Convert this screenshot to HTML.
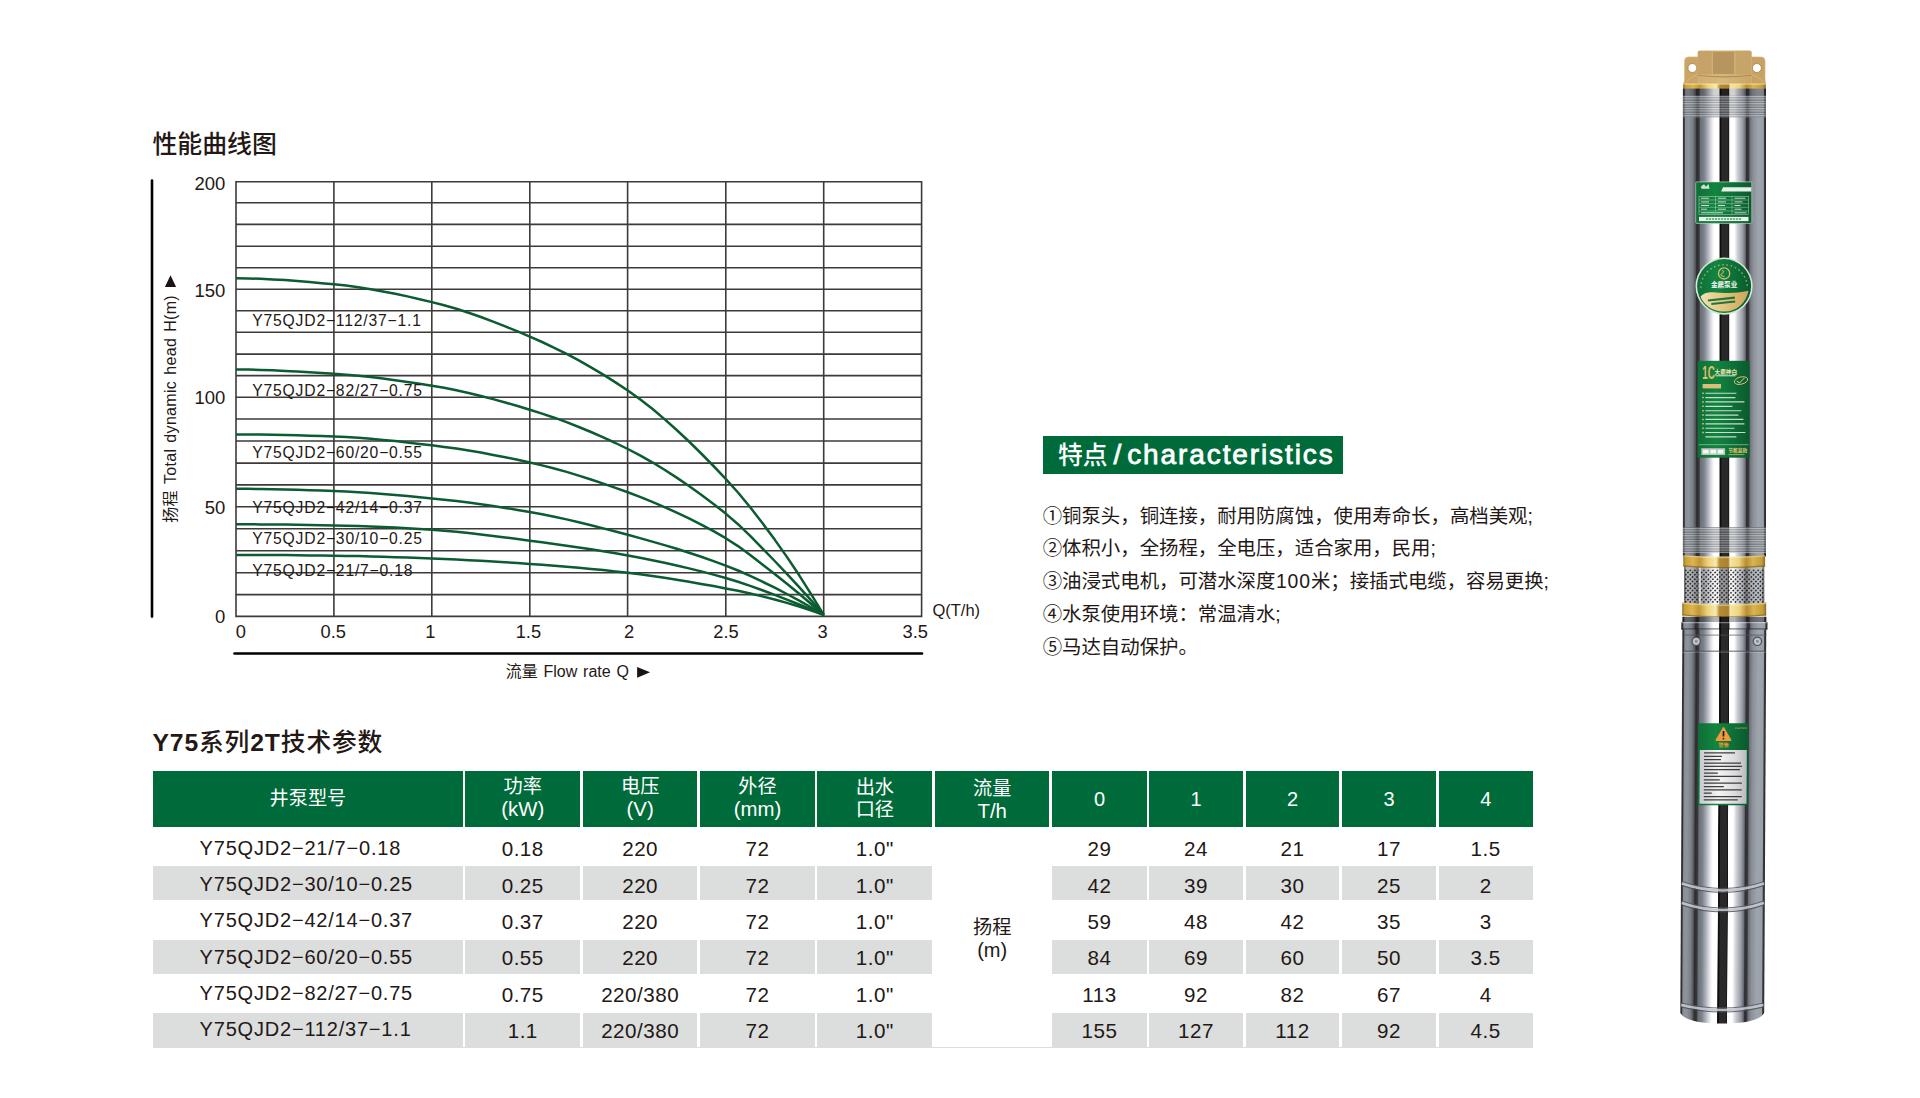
<!DOCTYPE html>
<html lang="zh-CN"><head><meta charset="utf-8"><title>Y75系列2T技术参数</title>
<style>
html,body{margin:0;padding:0;background:#fff;}
body{width:1920px;height:1098px;position:relative;overflow:hidden;font-family:"Liberation Sans","Noto Sans CJK SC",sans-serif;color:#231815;}
.t{position:absolute;white-space:nowrap;}
.c{position:absolute;display:flex;align-items:center;justify-content:center;text-align:center;white-space:nowrap;}
.h{background:#006b3a;color:#fff;}
.g{background:#dcdddd;}
svg{position:absolute;left:0;top:0;}
svg text{font-family:"Liberation Sans","Noto Sans CJK SC",sans-serif;fill:#231815;}
</style></head><body>

<div class="t" style="left:152.4px;top:127.4px;font-size:24.9px;line-height:34px;font-weight:500;">性能曲线图</div>
<div class="t" style="left:152.4px;top:726.0px;font-size:24.7px;line-height:34px;font-weight:500;letter-spacing:0.9px;"><b>Y75</b>系列<b>2T</b>技术参数</div>
<svg width="1920" height="1098" viewBox="0 0 1920 1098">
<path d="M235.20 181.70H922.40M235.20 202.80H922.40M235.20 224.40H922.40M235.20 246.20H922.40M235.20 267.70H922.40M235.20 289.30H922.40M235.20 310.70H922.40M235.20 332.30H922.40M235.20 354.10H922.40M235.20 375.60H922.40M235.20 397.20H922.40M235.20 419.00H922.40M235.20 441.00H922.40M235.20 463.10H922.40M235.20 484.90H922.40M235.20 506.80H922.40M235.20 528.70H922.40M235.20 550.70H922.40M235.20 572.70H922.40M235.20 594.60H922.40M235.20 616.40H922.40M236.00 181.70V616.40M333.90 181.70V616.40M431.80 181.70V616.40M529.80 181.70V616.40M627.60 181.70V616.40M725.80 181.70V616.40M823.70 181.70V616.40M921.60 181.70V616.40" fill="none" stroke="#3e3a39" stroke-width="1.6"/>
<path d="M152 180.6V616.6" stroke="#000" stroke-width="2.6" stroke-linecap="round" fill="none"/>
<path d="M234.5 653.5H922" stroke="#000" stroke-width="2.6" stroke-linecap="round" fill="none"/>
<path d="M236.0 278.2L248.2 278.4L260.5 278.8L272.7 279.4L285.0 280.1L297.2 281.1L309.5 282.1L321.7 283.2L333.9 284.3L346.2 285.6L358.4 287.3L370.7 289.2L382.9 291.4L395.2 293.8L407.4 296.4L419.6 299.2L431.9 302.1L444.1 305.3L456.4 308.8L468.6 312.8L480.9 317.0L493.1 321.6L505.3 326.4L517.6 331.4L529.8 336.6L542.1 342.0L554.3 347.8L566.6 353.9L578.8 360.4L591.0 367.3L603.3 374.6L615.5 382.4L627.8 390.5L640.0 399.3L652.3 408.8L664.5 419.1L676.7 430.0L689.0 441.5L701.2 453.5L713.5 466.0L725.7 478.8L738.0 492.5L750.2 507.3L762.4 523.1L774.7 539.6L786.9 556.9L799.2 575.3L811.4 594.6L823.7 614.8" fill="none" stroke="#0b5c30" stroke-width="2.5" stroke-linejoin="round"/>
<path d="M236.0 369.4L248.2 369.6L260.5 369.9L272.7 370.3L285.0 370.9L297.2 371.5L309.5 372.2L321.7 373.0L333.9 373.8L346.2 374.7L358.4 375.8L370.7 377.1L382.9 378.6L395.2 380.2L407.4 381.9L419.6 383.8L431.9 385.7L444.1 387.8L456.4 390.3L468.6 393.0L480.9 396.0L493.1 399.1L505.3 402.5L517.6 406.0L529.8 409.7L542.1 413.6L554.3 417.7L566.6 422.2L578.8 427.0L591.0 432.0L603.3 437.4L615.5 443.0L627.8 449.0L640.0 455.4L652.3 462.3L664.5 469.7L676.7 477.6L689.0 486.0L701.2 494.8L713.5 504.0L725.7 513.6L738.0 524.2L750.2 535.9L762.4 548.3L774.7 561.0L786.9 573.8L799.2 587.1L811.4 600.7L823.7 614.8" fill="none" stroke="#0b5c30" stroke-width="2.5" stroke-linejoin="round"/>
<path d="M236.0 434.4L248.2 434.4L260.5 434.6L272.7 434.8L285.0 435.0L297.2 435.3L309.5 435.7L321.7 436.1L333.9 436.5L346.2 437.0L358.4 437.8L370.7 438.8L382.9 439.9L395.2 441.1L407.4 442.4L419.6 443.9L431.9 445.3L444.1 446.9L456.4 448.6L468.6 450.5L480.9 452.6L493.1 454.9L505.3 457.3L517.6 459.8L529.8 462.5L542.1 465.4L554.3 468.5L566.6 471.9L578.8 475.6L591.0 479.5L603.3 483.6L615.5 487.9L627.8 492.3L640.0 496.9L652.3 501.9L664.5 507.1L676.7 512.6L689.0 518.4L701.2 524.6L713.5 531.2L725.7 538.2L738.0 546.1L750.2 555.0L762.4 564.5L774.7 574.1L786.9 583.8L799.2 593.8L811.4 604.2L823.7 614.8" fill="none" stroke="#0b5c30" stroke-width="2.5" stroke-linejoin="round"/>
<path d="M236.0 488.8L248.2 488.8L260.5 489.0L272.7 489.2L285.0 489.5L297.2 489.8L309.5 490.2L321.7 490.6L333.9 491.0L346.2 491.5L358.4 492.2L370.7 493.0L382.9 493.9L395.2 495.0L407.4 496.1L419.6 497.2L431.9 498.4L444.1 499.7L456.4 501.1L468.6 502.6L480.9 504.3L493.1 506.0L505.3 507.9L517.6 509.9L529.8 512.0L542.1 514.3L554.3 516.7L566.6 519.4L578.8 522.3L591.0 525.2L603.3 528.4L615.5 531.5L627.8 534.8L640.0 538.1L652.3 541.6L664.5 545.1L676.7 548.8L689.0 552.7L701.2 556.8L713.5 561.1L725.7 565.6L738.0 570.5L750.2 575.9L762.4 581.7L774.7 587.7L786.9 594.0L799.2 600.6L811.4 607.5L823.7 614.8" fill="none" stroke="#0b5c30" stroke-width="2.5" stroke-linejoin="round"/>
<path d="M236.0 524.3L248.2 524.3L260.5 524.4L272.7 524.5L285.0 524.6L297.2 524.8L309.5 525.0L321.7 525.2L333.9 525.4L346.2 525.7L358.4 526.0L370.7 526.5L382.9 527.0L395.2 527.6L407.4 528.3L419.6 529.0L431.9 529.8L444.1 530.7L456.4 531.8L468.6 533.1L480.9 534.5L493.1 536.0L505.3 537.5L517.6 539.1L529.8 540.7L542.1 542.3L554.3 543.9L566.6 545.7L578.8 547.4L591.0 549.3L603.3 551.3L615.5 553.3L627.8 555.5L640.0 557.8L652.3 560.2L664.5 562.8L676.7 565.5L689.0 568.4L701.2 571.4L713.5 574.6L725.7 578.0L738.0 581.7L750.2 585.9L762.4 590.3L774.7 594.9L786.9 599.6L799.2 604.5L811.4 609.5L823.7 614.8" fill="none" stroke="#0b5c30" stroke-width="2.5" stroke-linejoin="round"/>
<path d="M236.0 554.9L248.2 554.9L260.5 555.0L272.7 555.0L285.0 555.1L297.2 555.3L309.5 555.4L321.7 555.5L333.9 555.7L346.2 555.9L358.4 556.1L370.7 556.4L382.9 556.8L395.2 557.2L407.4 557.6L419.6 558.0L431.9 558.5L444.1 559.0L456.4 559.5L468.6 560.2L480.9 560.8L493.1 561.5L505.3 562.3L517.6 563.1L529.8 563.9L542.1 564.8L554.3 565.7L566.6 566.7L578.8 567.8L591.0 568.9L603.3 570.1L615.5 571.4L627.8 572.8L640.0 574.3L652.3 576.0L664.5 577.8L676.7 579.7L689.0 581.7L701.2 583.9L713.5 586.1L725.7 588.4L738.0 590.8L750.2 593.5L762.4 596.4L774.7 599.5L786.9 602.9L799.2 606.6L811.4 610.6L823.7 614.8" fill="none" stroke="#0b5c30" stroke-width="2.5" stroke-linejoin="round"/>
<text x="252.3" y="325.6" font-size="15.7" letter-spacing="0.8">Y75QJD2−112/37−1.1</text>
<text x="252.3" y="396.4" font-size="15.7" letter-spacing="0.8">Y75QJD2−82/27−0.75</text>
<text x="252.3" y="458.4" font-size="15.7" letter-spacing="0.8">Y75QJD2−60/20−0.55</text>
<text x="252.3" y="512.6" font-size="15.7" letter-spacing="0.8">Y75QJD2−42/14−0.37</text>
<text x="252.3" y="543.9" font-size="15.7" letter-spacing="0.8">Y75QJD2−30/10−0.25</text>
<text x="252.3" y="575.9" font-size="15.7" letter-spacing="0.8">Y75QJD2−21/7−0.18</text>
<text x="225.4" y="189.9" font-size="18.5" text-anchor="end">200</text>
<text x="225.4" y="296.9" font-size="18.5" text-anchor="end">150</text>
<text x="225.4" y="404.2" font-size="18.5" text-anchor="end">100</text>
<text x="225.4" y="513.7" font-size="18.5" text-anchor="end">50</text>
<text x="225.4" y="622.9" font-size="18.5" text-anchor="end">0</text>
<text x="333.3" y="637.5" font-size="18.3" text-anchor="middle">0.5</text>
<text x="430.3" y="637.5" font-size="18.3" text-anchor="middle">1</text>
<text x="528.4" y="637.5" font-size="18.3" text-anchor="middle">1.5</text>
<text x="629.2" y="637.5" font-size="18.3" text-anchor="middle">2</text>
<text x="726.0" y="637.5" font-size="18.3" text-anchor="middle">2.5</text>
<text x="822.7" y="637.5" font-size="18.3" text-anchor="middle">3</text>
<text x="915.2" y="637.5" font-size="18.3" text-anchor="middle">3.5</text>
<text x="235.8" y="637.5" font-size="18.3">0</text>
<text x="932.4" y="616.3" font-size="16.5">Q(T/h)</text>
<text x="505.8" y="677.3" font-size="16" word-spacing="1.3">流量 Flow rate Q</text>
<path d="M637.1 666.9V677.7L650.1 672.3Z" fill="#1a1311"/>
<text transform="translate(176.3 522.8) rotate(-90)" font-size="16" word-spacing="1.3" letter-spacing="0.32">扬程 Total dynamic head H(m)</text>
<path d="M164.9 286.9H176.1L170.5 275.2Z" fill="#1a1311"/>
</svg>
<div class="c h" style="left:1042.8px;top:435.8px;width:300.3px;height:37.8px;"></div>
<div class="t" style="left:1058px;top:436.8px;height:37.8px;line-height:37.8px;color:#fff;font-weight:500;font-size:24.8px;">特点</div>
<div class="t" style="left:1113.4px;top:436.3px;height:37.8px;line-height:37.8px;color:#fff;font-size:28px;-webkit-text-stroke:0.8px #fff;">/</div>
<div class="t" style="left:1127.2px;top:436.3px;height:37.8px;line-height:37.8px;color:#fff;font-size:28px;letter-spacing:1.9px;-webkit-text-stroke:0.8px #fff;">characteristics</div>
<div class="t" style="left:1042.7px;top:501.5px;font-size:19.4px;line-height:28px;">①铜泵头，铜连接，耐用防腐蚀，使用寿命长，高档美观;</div>
<div class="t" style="left:1042.7px;top:534.4px;font-size:19.4px;line-height:28px;">②体积小，全扬程，全电压，适合家用，民用;</div>
<div class="t" style="left:1042.7px;top:567.3px;font-size:19.4px;line-height:28px;">③油浸式电机，可潜水深度<span style="font-family:'Liberation Sans',sans-serif;letter-spacing:0.9px;margin-left:0.5px">100</span>米；接插式电缆，容易更换;</div>
<div class="t" style="left:1042.7px;top:600.2px;font-size:19.4px;line-height:28px;">④水泵使用环境：常温清水;</div>
<div class="t" style="left:1042.7px;top:633.1px;font-size:19.4px;line-height:28px;">⑤马达自动保护。</div>
<div class="c h" style="left:153.2px;top:770.5px;width:309.5px;height:56.3px;font-size:19.2px;line-height:22px;"><span>井泵型号</span></div>
<div class="c h" style="left:465.3px;top:770.5px;width:114.9px;height:56.3px;font-size:19.2px;line-height:22px;"><span>功率<br><span style="font-size:20.4px">(kW)</span></span></div>
<div class="c h" style="left:582.8px;top:770.5px;width:114.7px;height:56.3px;font-size:19.2px;line-height:22px;"><span>电压<br><span style="font-size:20.4px">(V)</span></span></div>
<div class="c h" style="left:700.2px;top:770.5px;width:114.6px;height:56.3px;font-size:19.2px;line-height:22px;"><span>外径<br><span style="font-size:20.4px">(mm)</span></span></div>
<div class="c h" style="left:817.4px;top:770.5px;width:114.9px;height:56.3px;font-size:19.2px;line-height:22px;"><span>出水<br>口径</span></div>
<div class="c h" style="left:935.0px;top:770.5px;width:114.4px;height:56.3px;font-size:19.2px;line-height:22px;"><span><span style="position:relative;top:1.6px">流量<br><span style="font-size:20.4px">T/h</span></span></span></div>
<div class="c h" style="left:1052.3px;top:770.5px;width:94.4px;height:56.3px;font-size:20.0px;line-height:22px;"><span>0</span></div>
<div class="c h" style="left:1149.0px;top:770.5px;width:94.0px;height:56.3px;font-size:20.0px;line-height:22px;"><span>1</span></div>
<div class="c h" style="left:1245.7px;top:770.5px;width:93.6px;height:56.3px;font-size:20.0px;line-height:22px;"><span>2</span></div>
<div class="c h" style="left:1342.0px;top:770.5px;width:94.0px;height:56.3px;font-size:20.0px;line-height:22px;"><span>3</span></div>
<div class="c h" style="left:1438.7px;top:770.5px;width:94.0px;height:56.3px;font-size:20.0px;line-height:22px;"><span>4</span></div>
<div class="t" style="left:199.6px;top:832.7px;height:30px;font-size:20px;line-height:30px;letter-spacing:0.8px;">Y75QJD2−21/7−0.18</div>
<div class="c" style="left:465.3px;top:834.3px;width:114.9px;height:30px;font-size:20.6px;line-height:30px;letter-spacing:0.5px;">0.18</div>
<div class="c" style="left:582.8px;top:834.3px;width:114.7px;height:30px;font-size:20.6px;line-height:30px;letter-spacing:0.5px;">220</div>
<div class="c" style="left:700.2px;top:834.3px;width:114.6px;height:30px;font-size:20.6px;line-height:30px;letter-spacing:0.5px;">72</div>
<div class="c" style="left:817.4px;top:834.3px;width:114.9px;height:30px;font-size:20.6px;line-height:30px;letter-spacing:0.5px;">1.0"</div>
<div class="c" style="left:1052.3px;top:834.3px;width:94.4px;height:30px;font-size:20.6px;line-height:30px;letter-spacing:0.5px;">29</div>
<div class="c" style="left:1149.0px;top:834.3px;width:94.0px;height:30px;font-size:20.6px;line-height:30px;letter-spacing:0.5px;">24</div>
<div class="c" style="left:1245.7px;top:834.3px;width:93.6px;height:30px;font-size:20.6px;line-height:30px;letter-spacing:0.5px;">21</div>
<div class="c" style="left:1342.0px;top:834.3px;width:94.0px;height:30px;font-size:20.6px;line-height:30px;letter-spacing:0.5px;">17</div>
<div class="c" style="left:1438.7px;top:834.3px;width:94.0px;height:30px;font-size:20.6px;line-height:30px;letter-spacing:0.5px;">1.5</div>
<div class="g" style="position:absolute;left:153.2px;top:866.3px;width:309.5px;height:34.2px;"></div>
<div class="t" style="left:199.6px;top:869.0px;height:30px;font-size:20px;line-height:30px;letter-spacing:0.8px;">Y75QJD2−30/10−0.25</div>
<div class="g" style="position:absolute;left:465.3px;top:866.3px;width:114.9px;height:34.2px;"></div>
<div class="c" style="left:465.3px;top:870.6px;width:114.9px;height:30px;font-size:20.6px;line-height:30px;letter-spacing:0.5px;">0.25</div>
<div class="g" style="position:absolute;left:582.8px;top:866.3px;width:114.7px;height:34.2px;"></div>
<div class="c" style="left:582.8px;top:870.6px;width:114.7px;height:30px;font-size:20.6px;line-height:30px;letter-spacing:0.5px;">220</div>
<div class="g" style="position:absolute;left:700.2px;top:866.3px;width:114.6px;height:34.2px;"></div>
<div class="c" style="left:700.2px;top:870.6px;width:114.6px;height:30px;font-size:20.6px;line-height:30px;letter-spacing:0.5px;">72</div>
<div class="g" style="position:absolute;left:817.4px;top:866.3px;width:114.9px;height:34.2px;"></div>
<div class="c" style="left:817.4px;top:870.6px;width:114.9px;height:30px;font-size:20.6px;line-height:30px;letter-spacing:0.5px;">1.0"</div>
<div class="g" style="position:absolute;left:1052.3px;top:866.3px;width:94.4px;height:34.2px;"></div>
<div class="c" style="left:1052.3px;top:870.6px;width:94.4px;height:30px;font-size:20.6px;line-height:30px;letter-spacing:0.5px;">42</div>
<div class="g" style="position:absolute;left:1149.0px;top:866.3px;width:94.0px;height:34.2px;"></div>
<div class="c" style="left:1149.0px;top:870.6px;width:94.0px;height:30px;font-size:20.6px;line-height:30px;letter-spacing:0.5px;">39</div>
<div class="g" style="position:absolute;left:1245.7px;top:866.3px;width:93.6px;height:34.2px;"></div>
<div class="c" style="left:1245.7px;top:870.6px;width:93.6px;height:30px;font-size:20.6px;line-height:30px;letter-spacing:0.5px;">30</div>
<div class="g" style="position:absolute;left:1342.0px;top:866.3px;width:94.0px;height:34.2px;"></div>
<div class="c" style="left:1342.0px;top:870.6px;width:94.0px;height:30px;font-size:20.6px;line-height:30px;letter-spacing:0.5px;">25</div>
<div class="g" style="position:absolute;left:1438.7px;top:866.3px;width:94.0px;height:34.2px;"></div>
<div class="c" style="left:1438.7px;top:870.6px;width:94.0px;height:30px;font-size:20.6px;line-height:30px;letter-spacing:0.5px;">2</div>
<div class="t" style="left:199.6px;top:905.3px;height:30px;font-size:20px;line-height:30px;letter-spacing:0.8px;">Y75QJD2−42/14−0.37</div>
<div class="c" style="left:465.3px;top:906.9px;width:114.9px;height:30px;font-size:20.6px;line-height:30px;letter-spacing:0.5px;">0.37</div>
<div class="c" style="left:582.8px;top:906.9px;width:114.7px;height:30px;font-size:20.6px;line-height:30px;letter-spacing:0.5px;">220</div>
<div class="c" style="left:700.2px;top:906.9px;width:114.6px;height:30px;font-size:20.6px;line-height:30px;letter-spacing:0.5px;">72</div>
<div class="c" style="left:817.4px;top:906.9px;width:114.9px;height:30px;font-size:20.6px;line-height:30px;letter-spacing:0.5px;">1.0"</div>
<div class="c" style="left:1052.3px;top:906.9px;width:94.4px;height:30px;font-size:20.6px;line-height:30px;letter-spacing:0.5px;">59</div>
<div class="c" style="left:1149.0px;top:906.9px;width:94.0px;height:30px;font-size:20.6px;line-height:30px;letter-spacing:0.5px;">48</div>
<div class="c" style="left:1245.7px;top:906.9px;width:93.6px;height:30px;font-size:20.6px;line-height:30px;letter-spacing:0.5px;">42</div>
<div class="c" style="left:1342.0px;top:906.9px;width:94.0px;height:30px;font-size:20.6px;line-height:30px;letter-spacing:0.5px;">35</div>
<div class="c" style="left:1438.7px;top:906.9px;width:94.0px;height:30px;font-size:20.6px;line-height:30px;letter-spacing:0.5px;">3</div>
<div class="g" style="position:absolute;left:153.2px;top:939.6px;width:309.5px;height:34.2px;"></div>
<div class="t" style="left:199.6px;top:941.6px;height:30px;font-size:20px;line-height:30px;letter-spacing:0.8px;">Y75QJD2−60/20−0.55</div>
<div class="g" style="position:absolute;left:465.3px;top:939.6px;width:114.9px;height:34.2px;"></div>
<div class="c" style="left:465.3px;top:943.2px;width:114.9px;height:30px;font-size:20.6px;line-height:30px;letter-spacing:0.5px;">0.55</div>
<div class="g" style="position:absolute;left:582.8px;top:939.6px;width:114.7px;height:34.2px;"></div>
<div class="c" style="left:582.8px;top:943.2px;width:114.7px;height:30px;font-size:20.6px;line-height:30px;letter-spacing:0.5px;">220</div>
<div class="g" style="position:absolute;left:700.2px;top:939.6px;width:114.6px;height:34.2px;"></div>
<div class="c" style="left:700.2px;top:943.2px;width:114.6px;height:30px;font-size:20.6px;line-height:30px;letter-spacing:0.5px;">72</div>
<div class="g" style="position:absolute;left:817.4px;top:939.6px;width:114.9px;height:34.2px;"></div>
<div class="c" style="left:817.4px;top:943.2px;width:114.9px;height:30px;font-size:20.6px;line-height:30px;letter-spacing:0.5px;">1.0"</div>
<div class="g" style="position:absolute;left:1052.3px;top:939.6px;width:94.4px;height:34.2px;"></div>
<div class="c" style="left:1052.3px;top:943.2px;width:94.4px;height:30px;font-size:20.6px;line-height:30px;letter-spacing:0.5px;">84</div>
<div class="g" style="position:absolute;left:1149.0px;top:939.6px;width:94.0px;height:34.2px;"></div>
<div class="c" style="left:1149.0px;top:943.2px;width:94.0px;height:30px;font-size:20.6px;line-height:30px;letter-spacing:0.5px;">69</div>
<div class="g" style="position:absolute;left:1245.7px;top:939.6px;width:93.6px;height:34.2px;"></div>
<div class="c" style="left:1245.7px;top:943.2px;width:93.6px;height:30px;font-size:20.6px;line-height:30px;letter-spacing:0.5px;">60</div>
<div class="g" style="position:absolute;left:1342.0px;top:939.6px;width:94.0px;height:34.2px;"></div>
<div class="c" style="left:1342.0px;top:943.2px;width:94.0px;height:30px;font-size:20.6px;line-height:30px;letter-spacing:0.5px;">50</div>
<div class="g" style="position:absolute;left:1438.7px;top:939.6px;width:94.0px;height:34.2px;"></div>
<div class="c" style="left:1438.7px;top:943.2px;width:94.0px;height:30px;font-size:20.6px;line-height:30px;letter-spacing:0.5px;">3.5</div>
<div class="t" style="left:199.6px;top:977.9px;height:30px;font-size:20px;line-height:30px;letter-spacing:0.8px;">Y75QJD2−82/27−0.75</div>
<div class="c" style="left:465.3px;top:979.5px;width:114.9px;height:30px;font-size:20.6px;line-height:30px;letter-spacing:0.5px;">0.75</div>
<div class="c" style="left:582.8px;top:979.5px;width:114.7px;height:30px;font-size:20.6px;line-height:30px;letter-spacing:0.5px;">220/380</div>
<div class="c" style="left:700.2px;top:979.5px;width:114.6px;height:30px;font-size:20.6px;line-height:30px;letter-spacing:0.5px;">72</div>
<div class="c" style="left:817.4px;top:979.5px;width:114.9px;height:30px;font-size:20.6px;line-height:30px;letter-spacing:0.5px;">1.0"</div>
<div class="c" style="left:1052.3px;top:979.5px;width:94.4px;height:30px;font-size:20.6px;line-height:30px;letter-spacing:0.5px;">113</div>
<div class="c" style="left:1149.0px;top:979.5px;width:94.0px;height:30px;font-size:20.6px;line-height:30px;letter-spacing:0.5px;">92</div>
<div class="c" style="left:1245.7px;top:979.5px;width:93.6px;height:30px;font-size:20.6px;line-height:30px;letter-spacing:0.5px;">82</div>
<div class="c" style="left:1342.0px;top:979.5px;width:94.0px;height:30px;font-size:20.6px;line-height:30px;letter-spacing:0.5px;">67</div>
<div class="c" style="left:1438.7px;top:979.5px;width:94.0px;height:30px;font-size:20.6px;line-height:30px;letter-spacing:0.5px;">4</div>
<div class="g" style="position:absolute;left:153.2px;top:1012.9px;width:309.5px;height:34.2px;"></div>
<div class="t" style="left:199.6px;top:1014.2px;height:30px;font-size:20px;line-height:30px;letter-spacing:0.8px;">Y75QJD2−112/37−1.1</div>
<div class="g" style="position:absolute;left:465.3px;top:1012.9px;width:114.9px;height:34.2px;"></div>
<div class="c" style="left:465.3px;top:1015.8px;width:114.9px;height:30px;font-size:20.6px;line-height:30px;letter-spacing:0.5px;">1.1</div>
<div class="g" style="position:absolute;left:582.8px;top:1012.9px;width:114.7px;height:34.2px;"></div>
<div class="c" style="left:582.8px;top:1015.8px;width:114.7px;height:30px;font-size:20.6px;line-height:30px;letter-spacing:0.5px;">220/380</div>
<div class="g" style="position:absolute;left:700.2px;top:1012.9px;width:114.6px;height:34.2px;"></div>
<div class="c" style="left:700.2px;top:1015.8px;width:114.6px;height:30px;font-size:20.6px;line-height:30px;letter-spacing:0.5px;">72</div>
<div class="g" style="position:absolute;left:817.4px;top:1012.9px;width:114.9px;height:34.2px;"></div>
<div class="c" style="left:817.4px;top:1015.8px;width:114.9px;height:30px;font-size:20.6px;line-height:30px;letter-spacing:0.5px;">1.0"</div>
<div class="g" style="position:absolute;left:1052.3px;top:1012.9px;width:94.4px;height:34.2px;"></div>
<div class="c" style="left:1052.3px;top:1015.8px;width:94.4px;height:30px;font-size:20.6px;line-height:30px;letter-spacing:0.5px;">155</div>
<div class="g" style="position:absolute;left:1149.0px;top:1012.9px;width:94.0px;height:34.2px;"></div>
<div class="c" style="left:1149.0px;top:1015.8px;width:94.0px;height:30px;font-size:20.6px;line-height:30px;letter-spacing:0.5px;">127</div>
<div class="g" style="position:absolute;left:1245.7px;top:1012.9px;width:93.6px;height:34.2px;"></div>
<div class="c" style="left:1245.7px;top:1015.8px;width:93.6px;height:30px;font-size:20.6px;line-height:30px;letter-spacing:0.5px;">112</div>
<div class="g" style="position:absolute;left:1342.0px;top:1012.9px;width:94.0px;height:34.2px;"></div>
<div class="c" style="left:1342.0px;top:1015.8px;width:94.0px;height:30px;font-size:20.6px;line-height:30px;letter-spacing:0.5px;">92</div>
<div class="g" style="position:absolute;left:1438.7px;top:1012.9px;width:94.0px;height:34.2px;"></div>
<div class="c" style="left:1438.7px;top:1015.8px;width:94.0px;height:30px;font-size:20.6px;line-height:30px;letter-spacing:0.5px;">4.5</div>
<div style="position:absolute;left:153.2px;top:1046.6px;width:1379.5px;height:1.2px;background:#dcdddd;"></div>
<div class="c" style="left:935.0px;top:917.3px;width:114.4px;height:22px;font-size:19.2px;line-height:22px;">扬程</div>
<div class="c" style="left:935.0px;top:939px;width:114.4px;height:22px;font-size:20px;line-height:22px;">(m)</div>
<svg width="1920" height="1098" viewBox="0 0 1920 1098">
<defs>
<linearGradient id="chr" x1="0" x2="1" y1="0" y2="0"><stop offset="0.0000" stop-color="#3a3a3c"/><stop offset="0.0160" stop-color="#2e2e30"/><stop offset="0.0300" stop-color="#888d96"/><stop offset="0.0680" stop-color="#8f949c"/><stop offset="0.1180" stop-color="#7b8087"/><stop offset="0.1500" stop-color="#55575e"/><stop offset="0.1660" stop-color="#2c2c2e"/><stop offset="0.1960" stop-color="#38393d"/><stop offset="0.2115" stop-color="#6c7179"/><stop offset="0.2550" stop-color="#7d828a"/><stop offset="0.3050" stop-color="#b3b6c0"/><stop offset="0.3550" stop-color="#eeeef2"/><stop offset="0.3800" stop-color="#ffffff"/><stop offset="0.4370" stop-color="#ffffff"/><stop offset="0.4440" stop-color="#151515"/><stop offset="0.4556" stop-color="#0a0a0a"/><stop offset="0.4680" stop-color="#2a2829"/><stop offset="0.5430" stop-color="#2a2829"/><stop offset="0.5557" stop-color="#111111"/><stop offset="0.5620" stop-color="#ffffff"/><stop offset="0.6180" stop-color="#ffffff"/><stop offset="0.6560" stop-color="#d0d2d8"/><stop offset="0.7180" stop-color="#9a9da6"/><stop offset="0.7500" stop-color="#6e717a"/><stop offset="0.7650" stop-color="#303034"/><stop offset="0.7930" stop-color="#37383c"/><stop offset="0.8060" stop-color="#6c7079"/><stop offset="0.8436" stop-color="#8a8f98"/><stop offset="0.9060" stop-color="#9ea4ac"/><stop offset="0.9687" stop-color="#9aa0a8"/><stop offset="0.9810" stop-color="#38383a"/><stop offset="1.0000" stop-color="#2a2a2c"/></linearGradient>
<linearGradient id="gld" x1="0" x2="1" y1="0" y2="0"><stop offset="0.0000" stop-color="#8f7226"/><stop offset="0.0300" stop-color="#c9a03c"/><stop offset="0.1200" stop-color="#dcb652"/><stop offset="0.2000" stop-color="#c09636"/><stop offset="0.3000" stop-color="#ecd27a"/><stop offset="0.4000" stop-color="#f8ebb0"/><stop offset="0.4450" stop-color="#b48c34"/><stop offset="0.5500" stop-color="#a98130"/><stop offset="0.5700" stop-color="#f6e6a6"/><stop offset="0.6800" stop-color="#ecd47e"/><stop offset="0.7700" stop-color="#b88e34"/><stop offset="0.8500" stop-color="#d9b450"/><stop offset="0.9600" stop-color="#c69c3c"/><stop offset="1.0000" stop-color="#8a6c22"/></linearGradient>
<linearGradient id="brs" x1="0" x2="1" y1="0" y2="0"><stop offset="0.0000" stop-color="#bb9557"/><stop offset="0.1200" stop-color="#cfaa6e"/><stop offset="0.4500" stop-color="#d8b77c"/><stop offset="0.8000" stop-color="#cca76b"/><stop offset="1.0000" stop-color="#b08a4e"/></linearGradient>
<linearGradient id="grn" x1="0" x2="1" y1="0" y2="0"><stop offset="0" stop-color="#0f6e38"/><stop offset="0.35" stop-color="#12853f"/><stop offset="0.7" stop-color="#0d6f37"/><stop offset="1" stop-color="#0a5a2c"/></linearGradient>
<linearGradient id="slv" x1="0" x2="1" y1="0" y2="0"><stop offset="0" stop-color="#c8c9cb"/><stop offset="0.4" stop-color="#f4f4f4"/><stop offset="0.75" stop-color="#dcdcde"/><stop offset="1" stop-color="#b9babd"/></linearGradient>
<linearGradient id="swo" x1="0" x2="1" y1="0" y2="0"><stop offset="0" stop-color="#f3e2b0"/><stop offset="0.5" stop-color="#e2c47e"/><stop offset="1" stop-color="#caa65a"/></linearGradient>
<pattern id="thr" width="4" height="2.4" patternUnits="userSpaceOnUse"><rect width="4" height="1.1" fill="#fff" opacity="0.32"/><rect y="1.2" width="4" height="1.2" fill="#30343a" opacity="0.28"/></pattern>
<pattern id="dots" width="3.2" height="3.2" patternUnits="userSpaceOnUse" patternTransform="rotate(45)"><circle cx="1.6" cy="1.6" r="0.95" fill="#151517"/></pattern>
</defs>
<path d="M1683.3 88.8V85.5Q1684 80.5 1690 77.5L1697.6 74.5V52.2Q1697.8 50.6 1700 50.5H1749.5Q1751.4 50.6 1751.6 52.2V74.5L1759 77.5Q1765 80.5 1765.7 85.5V88.8Z" fill="url(#brs)"/>
<path d="M1698.2 57H1688.2Q1684.7 57.2 1684.6 60.8V80L1683.6 84H1698.2Z" fill="#c9a568" stroke="#dfb374" stroke-width="0.7"/>
<path d="M1751.3 57H1761.4Q1764.9 57.2 1765 60.8V80L1765.6 84H1751.3Z" fill="#c6a266" stroke="#dfb374" stroke-width="0.7"/>
<circle cx="1692.4" cy="68" r="4.5" fill="#fff" stroke="#a98748" stroke-width="0.9"/>
<circle cx="1756.9" cy="68" r="4.5" fill="#fff" stroke="#a98748" stroke-width="0.9"/>
<path d="M1686.5 82.5Q1689 77.5 1697.8 74.6M1763 82.5Q1760.5 77.5 1751.6 74.6" stroke="#e0bb80" stroke-width="0.9" fill="none" opacity="0.9"/>
<rect x="1698.2" y="51.2" width="13.8" height="23" fill="#c4a268"/>
<rect x="1712.2" y="51.6" width="22.5" height="22.4" fill="#b6965e"/>
<rect x="1735" y="51.2" width="16.3" height="23" fill="#c6a46a"/>
<path d="M1712.2 51.4V74.2M1734.8 51.4V74.2" stroke="#d9b679" stroke-width="1" fill="none"/>
<path d="M1697.6 75.2Q1724 78.5 1751.6 75.2" stroke="#a8864c" stroke-width="1.1" fill="none" opacity="0.8"/>
<rect x="1683.3" y="83.8" width="82.4" height="5" fill="url(#gld)"/>
<rect x="1683.3" y="83.6" width="82.4" height="1" fill="#fff2b0" opacity="0.7"/>
<rect x="1682.9" y="88.6" width="83.1" height="468" fill="url(#chr)"/>
<rect x="1682.9" y="88.6" width="83.1" height="7" fill="#000" opacity="0.18"/>
<rect x="1682.9" y="95.6" width="83.1" height="21.8" fill="#8e949c" opacity="0.45"/>
<rect x="1682.9" y="95.6" width="83.1" height="21.8" fill="url(#thr)"/>
<rect x="1682.9" y="527" width="83.1" height="26" fill="#8e949c" opacity="0.45"/>
<rect x="1682.9" y="527" width="83.1" height="26" fill="url(#thr)"/>
<rect x="1695.7" y="181.9" width="56.1" height="41.5" rx="1.2" fill="url(#grn)" stroke="#d8eadc" stroke-width="0.6"/>
<path d="M1723 187.2H1751.3V191.4H1721.2Z" fill="#e9efe9"/>
<path d="M1701 186.5l3-2.2 2 2.4 2.4-2.6 1.2 4.6h-8.2z" fill="#e6efe6" opacity="0.9"/>
<rect x="1699" y="196.3" width="49.5" height="18.3" fill="none" stroke="#cfe3d3" stroke-width="0.45"/>
<path d="M1699 200H1748.5M1699 203.7H1748.5M1699 207.3H1748.5M1699 211H1748.5M1715.5 196.3V211M1732 196.3V214.6" stroke="#cfe3d3" stroke-width="0.4" fill="none"/>
<path d="M1701 198.2h8M1718 198.2h8M1734.5 198.2h11M1701 201.9h8M1718 201.9h8M1734.5 201.9h8M1701 205.5h8M1718 205.5h7M1734.5 205.5h6M1701 209.2h6M1718 209.2h8M1734.5 209.2h7M1701 212.8h22M1734.5 212.8h12" stroke="#fff" stroke-width="0.9" fill="none" opacity="0.85"/>
<rect x="1699" y="216.9" width="49.5" height="4.2" fill="#eef3ee"/>
<path d="M1706 219h36" stroke="#0f6e38" stroke-width="1.2" stroke-dasharray="2.2 0.8" fill="none"/>
<circle cx="1724.1" cy="286.1" r="28.6" fill="#d5e6d6"/>
<circle cx="1724.1" cy="286.1" r="27" fill="url(#grn)"/>
<path d="M1700.5 296.5C1709 287 1722 297 1748.5 290.8C1746 303 1737 311.6 1724.1 311.6C1712 311.6 1703.5 304.5 1700.5 296.5Z" fill="url(#swo)"/>
<circle cx="1724.1" cy="273.4" r="5.6" fill="none" stroke="#d9bd74" stroke-width="1.3"/>
<path d="M1722 270.5q3.5 1 0 3t2.5 3" stroke="#d9bd74" stroke-width="1" fill="none"/>
<text x="1724.1" y="287.2" font-size="6.6" font-weight="bold" text-anchor="middle" style="fill:#f1f5ee">金鼎泵业</text>
<path d="M1708 298.8h27M1711 302.6h24" stroke="#0c6a35" stroke-width="2.1" fill="none" opacity="0.9" transform="rotate(-6 1724 300)"/>
<path d="M1700.8 288A23.3 23.3 0 0 1 1747.4 288" fill="none" stroke="#e2d9a0" stroke-width="1.3" stroke-dasharray="1.7 2.6" opacity="0.6"/>
<rect x="1697.6" y="360.8" width="52" height="96.9" fill="url(#grn)"/>
<text x="1702.3" y="378.8" font-size="19" font-weight="bold" textLength="12.5" lengthAdjust="spacingAndGlyphs" style="fill:#e1bd6a">1C</text>
<text x="1714.6" y="373.5" font-size="5.6" font-weight="bold" style="fill:#f3e3b4">大鼎神白</text>
<path d="M1715.5 375.8h20" stroke="#e9f1e9" stroke-width="0.9" fill="none"/>
<ellipse cx="1741" cy="380.6" rx="6.8" ry="3.6" fill="none" stroke="#dcc27a" stroke-width="0.9" transform="rotate(-14 1741 380.6)"/>
<path d="M1736.8 381l2.6 2 5-5" stroke="#e9d79a" stroke-width="1" fill="none"/>
<rect x="1702.6" y="384" width="18.4" height="4.4" fill="#dcbf76"/>
<path d="M1705.4 393.2h31M1705.4 397.6h30M1705.4 401.9h39M1705.4 406.3h27M1705.4 410.7h36M1705.4 415.1h33M1705.4 419.4h38M1705.4 423.8h39M1705.4 428.2h29M1705.4 432.5h40M1705.4 436.9h31" stroke="#eef4ee" stroke-width="1.15" fill="none" opacity="0.82"/>
<path d="M1702.2 393.2h1.6M1702.2 397.6h1.6M1702.2 401.9h1.6M1702.2 406.3h1.6M1702.2 410.7h1.6M1702.2 415.1h1.6M1702.2 419.4h1.6M1702.2 423.8h1.6M1702.2 428.2h1.6M1702.2 432.5h1.6" stroke="#d8bf7c" stroke-width="1.5" fill="none"/>
<path d="M1698.6 444.7H1748.6" stroke="#d9e9dc" stroke-width="0.5" fill="none"/>
<rect x="1701.3" y="448.2" width="23.8" height="6.8" fill="#b9c6bb"/>
<path d="M1703 451.6h5.6M1710.4 451.6h5.6M1717.8 451.6h5.6" stroke="#f4f7f4" stroke-width="3.6" fill="none"/>
<text x="1728.2" y="452.4" font-size="4.8" font-weight="bold" style="fill:#e4c877">节能高效</text>
<path d="M1728.4 454.6h16" stroke="#e4c877" stroke-width="0.8" fill="none" opacity="0.85"/>
<rect x="1684" y="566" width="80.2" height="40" fill="url(#chr)"/>
<rect x="1684" y="566" width="80.2" height="40" fill="#eeeef0" opacity="0.38"/>
<rect x="1719" y="566" width="8.5" height="40" fill="#b9bbc0" opacity="0.55"/>
<rect x="1684" y="569.5" width="80.2" height="33.5" fill="url(#dots)" opacity="0.85"/>
<rect x="1698.8" y="566" width="2" height="40" fill="#fff" opacity="0.7"/>
<path d="M1683.3 555.2Q1724.2 558.4 1765.1 555.2V566.6Q1724.2 569.8 1683.3 566.6Z" fill="url(#gld)"/>
<path d="M1683.3 556.0Q1724.2 559.2 1765.1 556.0" stroke="#fff6c0" stroke-width="1.2" fill="none" opacity="0.45"/>
<path d="M1683.3 566.0Q1724.2 569.2 1765.1 566.0" stroke="#6b4e12" stroke-width="1.3" fill="none" opacity="0.5"/>
<path d="M1682.2 602.6Q1724.2 606.6 1766.2 602.6V615.4Q1724.2 619.4 1682.2 615.4Z" fill="url(#gld)"/>
<path d="M1682.2 603.4Q1724.2 607.4 1766.2 603.4" stroke="#fff6c0" stroke-width="1.2" fill="none" opacity="0.45"/>
<path d="M1682.2 614.8Q1724.2 618.8 1766.2 614.8" stroke="#6b4e12" stroke-width="1.3" fill="none" opacity="0.5"/>
<g transform="translate(0 640) skewX(-0.31) translate(0 -640)">
<path d="M1682.3 616.8H1766.2V1013Q1760.2 1023.5 1724.2 1023.5Q1688.3 1023.5 1682.3 1013Z" fill="url(#chr)"/>
<rect x="1682.3" y="616.8" width="83.9" height="5.2" fill="#000" opacity="0.3"/>
<rect x="1681.2" y="622" width="86.2" height="7.4" fill="url(#chr)"/>
<rect x="1681.2" y="622" width="86.2" height="1.3" fill="#fff" opacity="0.4"/>
<rect x="1681.2" y="628.2" width="86.2" height="1.4" fill="#1c1c1e" opacity="0.55"/>
<rect x="1682.3" y="634.6" width="83.9" height="1.1" fill="#50545a" opacity="0.55"/>
<rect x="1682.3" y="650.6" width="83.9" height="1.3" fill="#50545a" opacity="0.6"/>
<rect x="1682.3" y="651.9" width="83.9" height="1" fill="#fff" opacity="0.18"/>
<circle cx="1696.2" cy="641.3" r="4.2" fill="#b9bcc1" stroke="#4d5056" stroke-width="1.2"/>
<circle cx="1696.2" cy="641.3" r="2.1" fill="#8d9096" stroke="#dcdde0" stroke-width="0.7"/>
<circle cx="1757.4" cy="641.3" r="4.2" fill="#b9bcc1" stroke="#4d5056" stroke-width="1.2"/>
<circle cx="1757.4" cy="641.3" r="2.1" fill="#8d9096" stroke="#dcdde0" stroke-width="0.7"/>
<path d="M1683.1 881.5Q1724.2 895.5 1765.4 881.5" stroke="#565a61" stroke-width="1.2" fill="none" opacity="0.85"/>
<path d="M1683.1 883.5Q1724.2 897.5 1765.4 883.5" stroke="#c3c6cd" stroke-width="2.4" fill="none" opacity="0.9"/>
<path d="M1683.1 885.5Q1724.2 899.5 1765.4 885.5" stroke="#4a4d54" stroke-width="1.1" fill="none" opacity="0.85"/>
<path d="M1683.1 901.0Q1724.2 915.0 1765.4 901.0" stroke="#565a61" stroke-width="1.2" fill="none" opacity="0.85"/>
<path d="M1683.1 903.0Q1724.2 917.0 1765.4 903.0" stroke="#c3c6cd" stroke-width="2.4" fill="none" opacity="0.9"/>
<path d="M1683.1 905.0Q1724.2 919.0 1765.4 905.0" stroke="#4a4d54" stroke-width="1.1" fill="none" opacity="0.85"/>
<path d="M1683.1 1003.0Q1724.2 1013.0 1765.4 1003.0" stroke="#565a61" stroke-width="1.2" fill="none" opacity="0.85"/>
<path d="M1683.1 1005.0Q1724.2 1015.0 1765.4 1005.0" stroke="#c3c6cd" stroke-width="2.4" fill="none" opacity="0.9"/>
<path d="M1683.1 1007.0Q1724.2 1017.0 1765.4 1007.0" stroke="#4a4d54" stroke-width="1.1" fill="none" opacity="0.85"/>
<rect x="1698.6" y="723.2" width="50.4" height="82.1" fill="url(#grn)"/>
<path d="M1724 727.8L1731.2 740.2H1716.8Z" fill="#f29a3c" stroke="#f29a3c" stroke-width="1.5" stroke-linejoin="round"/>
<path d="M1724 731V736.6" stroke="#1b1b1b" stroke-width="1.7" fill="none"/><circle cx="1724" cy="738.6" r="0.85" fill="#1b1b1b"/>
<text x="1724.2" y="747.2" font-size="5.4" font-weight="bold" text-anchor="middle" style="fill:#f29a3c">警告</text>
<text x="1747" y="729.3" font-size="2.6" text-anchor="end" style="fill:#d9c36a">CAUTION</text>
<rect x="1700.4" y="750" width="47" height="53.8" fill="url(#slv)"/>
<path d="M1704.6 752.9h31M1704.6 756.3h18M1704.6 759.6h17M1704.6 763.0h37M1704.6 766.3h38M1704.6 769.7h36M1704.6 773.1h14M1704.6 776.4h38M1704.6 779.8h16M1704.6 783.1h38M1704.6 786.5h20M1704.6 789.9h38M1704.6 793.2h8M1704.6 796.6h38M1704.6 799.9h34" stroke="#2b2b2d" stroke-width="1.25" fill="none" opacity="0.9"/>
</g>
</svg>
</body></html>
